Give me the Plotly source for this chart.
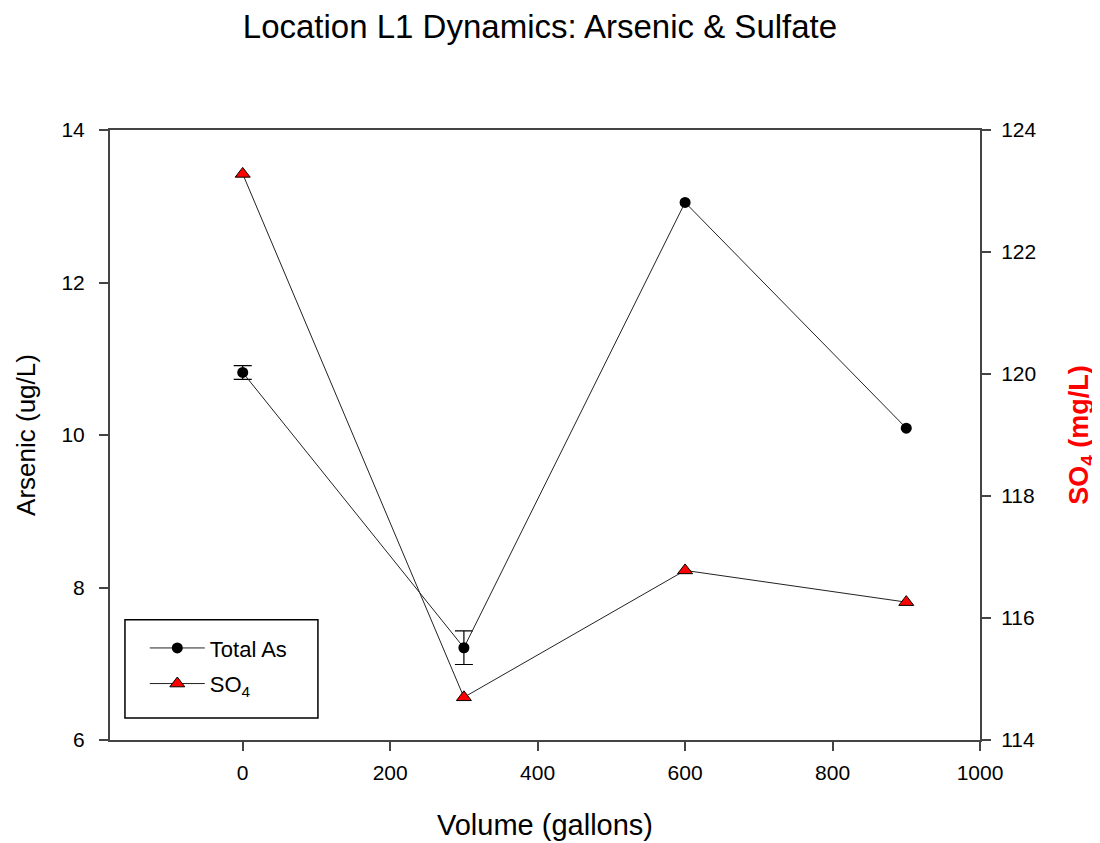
import plotly.graph_objects as go

volume = [0, 300, 600, 900]
arsenic = [10.82, 7.21, 13.05, 10.09]
arsenic_err = [0.09, 0.22, 0.0, 0.0]
so4 = [123.28, 114.70, 116.78, 116.26]

FONT = "Liberation Sans, Arial, sans-serif"
AX = "#444444"

# points that carry a visible error bar
err_idx = [i for i, e in enumerate(arsenic_err) if e > 0]

fig = go.Figure()
fig.add_trace(go.Scatter(
    x=[volume[i] for i in err_idx], y=[arsenic[i] for i in err_idx], mode="markers",
    marker=dict(size=1, color="rgba(0,0,0,0)"), showlegend=False, hoverinfo="skip",
    error_y=dict(type="data", array=[arsenic_err[i] for i in err_idx], visible=True,
                 color="black", thickness=1.2, width=9),
))
fig.add_trace(go.Scatter(
    x=volume, y=arsenic, name="Total As", mode="lines+markers", legendgroup="a",
    line=dict(color="#222222", width=1),
    marker=dict(symbol="circle", size=11, color="black"),
))
fig.add_trace(go.Scatter(
    x=volume, y=so4, name="SO<sub>4</sub>", mode="lines+markers", yaxis="y2", legendgroup="b",
    line=dict(color="#222222", width=1),
    marker=dict(symbol="triangle-up", size=13, color="#ff0000", line=dict(color="black", width=1)),
))

# legend frame (plot area: x 110..980, y 130..740 on screen)
fig.add_shape(type="rect", xref="paper", yref="paper",
              x0=0.0172, x1=0.239, y0=0.036, y1=0.197,
              line=dict(color="black", width=1.5), fillcolor="white", layer="below")

fig.update_layout(
    width=1100, height=843,
    paper_bgcolor="white", plot_bgcolor="white",
    margin=dict(l=102, r=128, t=122, b=111),
    font=dict(family=FONT, color="black"),
    title=dict(text="Location L1 Dynamics: Arsenic & Sulfate", x=0.4836, xanchor="center", y=0.978, yanchor="middle",
               font=dict(size=33, family=FONT, color="black")),
    xaxis=dict(range=[-180, 1000], tickvals=[0, 200, 400, 600, 800, 1000], showgrid=False, zeroline=False,
               showline=True, linecolor=AX, linewidth=2, mirror=True,
               ticks="outside", ticklen=9, tickcolor=AX, tickwidth=1.5, ticklabelstandoff=4,
               tickfont=dict(size=21), title=dict(text="Volume (gallons)", font=dict(size=29), standoff=31)),
    yaxis=dict(range=[6, 14], tickvals=[6, 8, 10, 12, 14], showgrid=False, zeroline=False,
               showline=True, linecolor=AX, linewidth=2,
               ticks="outside", ticklen=9, tickcolor=AX, tickwidth=1.5, ticklabelstandoff=10,
               tickfont=dict(size=21), title=dict(text="Arsenic (ug/L)", font=dict(size=26), standoff=18)),
    yaxis2=dict(range=[114, 124], tickvals=[114, 116, 118, 120, 122, 124], overlaying="y", side="right",
                showgrid=False, zeroline=False, showline=True, linecolor=AX, linewidth=2,
                ticks="outside", ticklen=9, tickcolor=AX, tickwidth=1.5, ticklabelstandoff=6,
                tickfont=dict(size=21),
                title=dict(text="<b>SO<sub>4</sub> (mg/L)</b>", font=dict(size=27, color="#ff0000"), standoff=34)),
    legend=dict(x=0.04, y=0.185, xanchor="left", yanchor="top", bgcolor="rgba(0,0,0,0)",
                borderwidth=0, font=dict(size=22),
                itemwidth=55, tracegroupgap=4),
    showlegend=True,
)

fig.write_html("out.html")
